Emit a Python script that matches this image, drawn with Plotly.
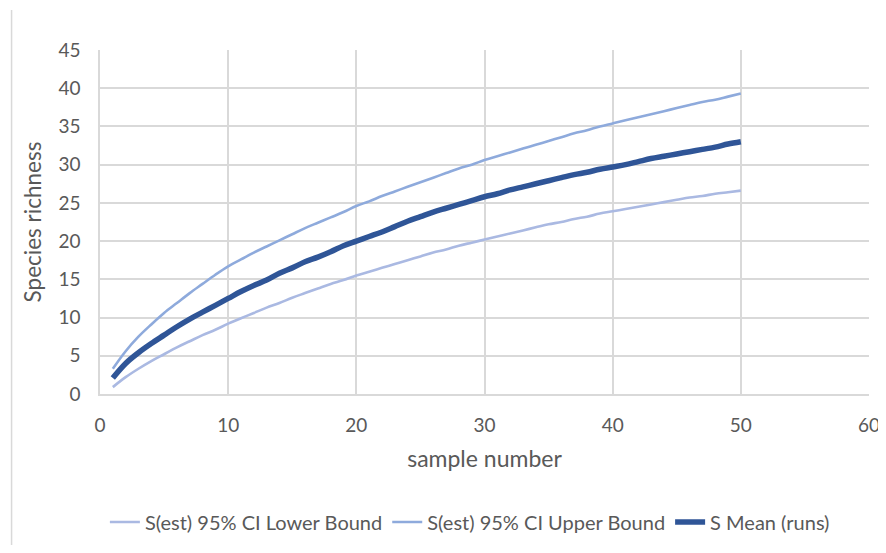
import plotly.graph_objects as go

samples = list(range(1, 51))

lower_bound = [0.9, 2.2, 3.3, 4.3, 5.2, 6.1, 6.9, 7.7, 8.4, 9.2,
               9.9, 10.6, 11.3, 11.9, 12.6, 13.2, 13.8, 14.4, 14.9, 15.5,
               16.0, 16.5, 17.0, 17.5, 18.0, 18.5, 18.9, 19.4, 19.8, 20.2,
               20.6, 21.0, 21.4, 21.8, 22.2, 22.5, 22.9, 23.2, 23.6, 23.9,
               24.2, 24.5, 24.8, 25.1, 25.4, 25.7, 25.9, 26.2, 26.4, 26.6]

upper_bound = [3.3, 5.6, 7.5, 9.1, 10.6, 11.9, 13.2, 14.4, 15.6, 16.7,
               17.6, 18.5, 19.3, 20.1, 20.9, 21.7, 22.4, 23.1, 23.8, 24.6,
               25.2, 25.9, 26.5, 27.1, 27.7, 28.3, 28.9, 29.5, 30.0, 30.6,
               31.1, 31.6, 32.1, 32.6, 33.1, 33.6, 34.1, 34.5, 35.0, 35.4,
               35.8, 36.2, 36.6, 37.0, 37.4, 37.8, 38.2, 38.5, 38.9, 39.3]

mean_runs = [2.1, 4.0, 5.4, 6.6, 7.7, 8.8, 9.8, 10.7, 11.6, 12.5,
             13.4, 14.2, 14.9, 15.8, 16.5, 17.3, 17.9, 18.6, 19.4, 20.0,
             20.6, 21.2, 21.9, 22.6, 23.2, 23.8, 24.3, 24.8, 25.3, 25.8,
             26.2, 26.7, 27.1, 27.5, 27.9, 28.3, 28.7, 29.0, 29.4, 29.7,
             30.0, 30.4, 30.8, 31.1, 31.4, 31.7, 32.0, 32.3, 32.7, 33.0]

names = ["S(est) 95% CI Lower Bound", "S(est) 95% CI Upper Bound", "S Mean (runs)"]

FONT = "Lato, 'Open Sans', sans-serif"
GRID = "#d9d9d9"
TXT = "#595959"

fig = go.Figure()
fig.add_trace(go.Scatter(x=samples, y=lower_bound, mode="lines", name=names[0],
                         line=dict(color="#aab9e2", width=2.6, shape="spline")))
fig.add_trace(go.Scatter(x=samples, y=upper_bound, mode="lines", name=names[1],
                         line=dict(color="#8eaadc", width=2.6, shape="spline")))
fig.add_trace(go.Scatter(x=samples, y=mean_runs, mode="lines", name=names[2],
                         line=dict(color="#2f5597", width=5.5, shape="spline")))

fig.update_layout(
    width=878, height=537,
    margin=dict(l=92, r=17, t=42, b=151, autoexpand=False),
    paper_bgcolor="white", plot_bgcolor="white",
    font=dict(family=FONT, size=19, color=TXT),
    showlegend=True,
    legend=dict(orientation="h", x=0.481, xanchor="center", y=-0.372, yanchor="middle",
                font=dict(family=FONT, size=20, color=TXT), itemwidth=30,
                tracegroupgap=0),
    shapes=[dict(type="line", xref="paper", yref="paper",
                 x0=-0.115, x1=-0.115, y0=-0.44, y1=1.116,
                 line=dict(color=GRID, width=1.5))],
)
fig.update_xaxes(range=[0, 60], dtick=10, showgrid=True, gridcolor=GRID, gridwidth=1.5,
                 showline=True, linecolor=GRID, linewidth=1.5, mirror=False,
                 zeroline=False, ticks="", tickfont=dict(size=19, color=TXT), automargin=False,
                 ticklabelstandoff=13, ticklabeloverflow="allow",
                 title=dict(text="sample number", font=dict(size=23, color=TXT), standoff=16))
fig.update_yaxes(range=[0, 45], dtick=5, showgrid=True, gridcolor=GRID, gridwidth=1.5,
                 showline=True, linecolor=GRID, linewidth=1.5, automargin=False,
                 ticklabelstandoff=14,
                 zeroline=False, ticks="", tickfont=dict(size=19, color=TXT),
                 title=dict(text="Species richness", font=dict(size=22.5, color=TXT), standoff=11))

fig.write_html("out.html")
